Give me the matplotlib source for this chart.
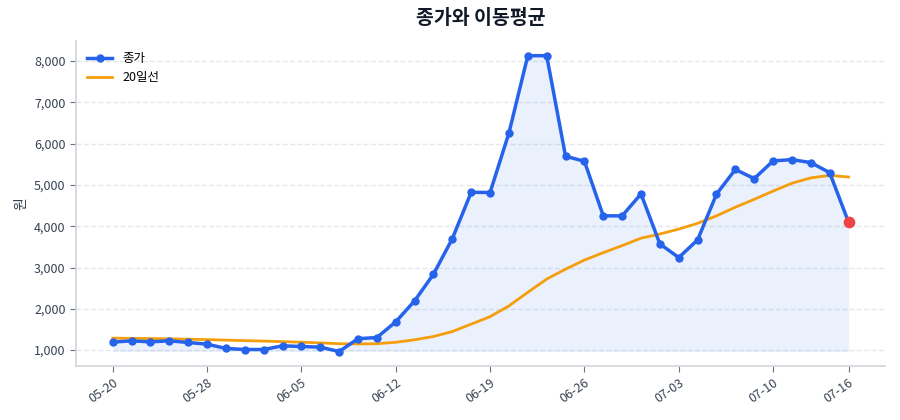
import matplotlib
matplotlib.use('Agg')
import matplotlib.pyplot as plt
import numpy as np

plt.rcParams['font.family'] = ['Noto Sans CJK KR', 'DejaVu Sans']

# closing price (원) per trading day
close = [1194, 1225, 1200, 1225, 1185, 1145, 1040, 1015, 1015, 1104,
         1088, 1072, 966, 1277, 1305, 1685, 2193, 2838, 3700, 4822,
         4815, 6258, 8128, 8128, 5694, 5573, 4251, 4251, 4782, 3572,
         3241, 3669, 4775, 5374, 5152, 5580, 5612, 5540, 5297, 4097]
# 20-day moving average
ma20 = [1290, 1285, 1280, 1273, 1265, 1255, 1242, 1230, 1218, 1205,
        1192, 1175, 1155, 1150, 1155, 1190, 1250, 1330, 1450, 1630,
        1810, 2070, 2400, 2720, 2960, 3180, 3360, 3530, 3710, 3810,
        3930, 4070, 4250, 4460, 4650, 4850, 5040, 5170, 5230, 5190]
tick_idx = [0, 5, 10, 15, 20, 25, 30, 35, 39]
tick_labels = ['05-20', '05-28', '06-05', '06-12', '06-19',
               '06-26', '07-03', '07-10', '07-16']

blue = '#2563eb'
orange = '#f59e0b'
x = np.arange(len(close))

fig = plt.figure(figsize=(9, 4.2), dpi=100)
ax = fig.add_axes([0.0844, 0.129, 0.8993, 0.774])

ax.fill_between(x, close, min(close), color=blue, alpha=0.09, linewidth=0)
ax.plot(x, close, color=blue, lw=2.5, marker='o', markersize=5, label='종가', zorder=3)
ax.plot(x, ma20, color=orange, lw=2, label='20일선', zorder=2)
ax.scatter([x[-1]], [close[-1]], color='#ef4444', s=55, zorder=4)

ax.set_xlim(-1.95, 40.95)
ax.set_ylim(620, 8490)
ax.set_xticks(tick_idx)
ax.set_xticklabels(tick_labels, rotation=35, ha='right', rotation_mode='anchor')
ax.yaxis.set_major_formatter(matplotlib.ticker.FuncFormatter(lambda v, p: f'{int(v):,}'))

ax.set_title('종가와 이동평균', fontsize=14, fontweight='bold', color='#111827', pad=12)
ax.set_ylabel('원', fontsize=10, color='#374151')

ax.grid(axis='y', linestyle='--', color='#e5e7eb', lw=1)
ax.set_axisbelow(True)
for s in ['top', 'right']:
    ax.spines[s].set_visible(False)
for s in ['left', 'bottom']:
    ax.spines[s].set_color('#d1d5db')
    ax.spines[s].set_linewidth(1.2)
ax.tick_params(colors='#6b7280', labelsize=9, length=4)
for lbl in ax.get_xticklabels() + ax.get_yticklabels():
    lbl.set_color('#374151')

ax.legend(loc='upper left', frameon=False, fontsize=9)

fig.savefig('out.png', dpi=100)
